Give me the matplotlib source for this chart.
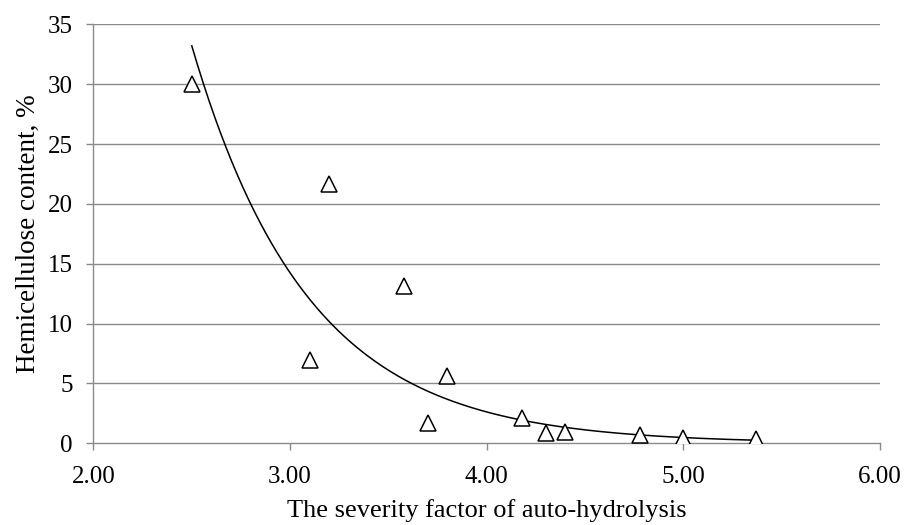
import numpy as np
import matplotlib.pyplot as plt

# severity factor (log R0) vs hemicellulose content
severity = [2.50, 3.10, 3.20, 3.58, 3.70, 3.80, 4.18, 4.30, 4.40, 4.78, 5.00, 5.37]
hemicellulose = [30.0, 7.0, 21.7, 13.1, 1.7, 5.6, 2.1, 0.9, 0.95, 0.7, 0.47, 0.36]

x_ticks = [2.0, 3.0, 4.0, 5.0, 6.0]
y_ticks = [0, 5, 10, 15, 20, 25, 30, 35]

plt.rcParams['font.family'] = ['Liberation Serif', 'DejaVu Serif']

x = np.array(severity)
y = np.array(hemicellulose)

# exponential trendline, least squares on ln(y) like Excel does
b, ln_a = np.polyfit(x, np.log(y), 1)
x_fit = np.linspace(x.min(), x.max(), 300)
y_fit = np.exp(ln_a) * np.exp(b * x_fit)

fig = plt.figure(figsize=(9.05, 5.25), dpi=100)
ax = fig.add_axes([0.1033, 0.1556, 0.8691, 0.7981])

grid_col = '#8a8a8a'
for yt in y_ticks[1:]:
    ax.axhline(yt, color=grid_col, linewidth=1.0, zorder=1)

ax.plot(x_fit, y_fit, color='black', linewidth=1.1, zorder=2)
ax.plot(x, y, linestyle='none', marker='^', markersize=11.5,
        markerfacecolor='white', markeredgecolor='black', markeredgewidth=1.1, zorder=3)

ax.set_xlim(2.0, 6.0)
ax.set_ylim(0, 35)
ax.set_xticks(x_ticks)
ax.set_xticklabels([f'{v:.2f}' for v in x_ticks])
ax.set_yticks(y_ticks)

for side in ['top', 'right']:
    ax.spines[side].set_visible(False)
for side in ['left', 'bottom']:
    ax.spines[side].set_color(grid_col)
    ax.spines[side].set_linewidth(1.0)

ax.tick_params(axis='both', direction='out', length=5, width=1.0, color=grid_col,
               labelsize=18, labelcolor='black')
ax.tick_params(axis='x', pad=11)
ax.tick_params(axis='y', pad=10)

ax.set_xlabel('The severity factor of auto-hydrolysis', fontsize=19, labelpad=8)
ax.set_ylabel('Hemicellulose content, %', fontsize=19.5, labelpad=5)

fig.savefig('out.png', dpi=100)
